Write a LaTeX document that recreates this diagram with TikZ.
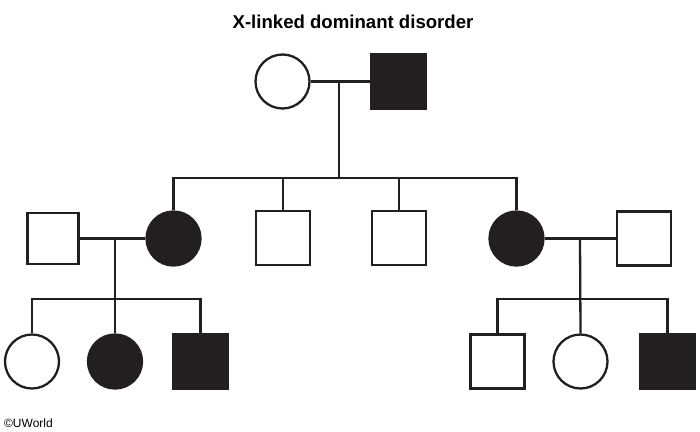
\documentclass[tikz,border=0pt]{standalone}
\usepackage{fontspec}
\setmainfont{Liberation Sans}
\definecolor{ink}{HTML}{231F20}
\tikzset{
  male/.style={draw=ink, rectangle, minimum size=54pt, inner sep=0pt},
  female/.style={draw=ink, circle, minimum size=54pt, inner sep=0pt},
  aff/.style={fill=ink},
  link/.style={draw=ink, line width=2.3pt}
}
\begin{document}
\begin{tikzpicture}[x=1pt,y=-1pt, line width=2.3pt]
\useasboundingbox (0,0) rectangle (700,431);
\node[font=\bfseries\fontsize{18.6}{22}\selectfont] (title) at (353,22) {X-linked dominant disorder};
\node[anchor=west, font=\fontsize{12}{14}\selectfont, inner sep=0pt] (copy) at (3,423) {©UWorld};
% generation I
\node[female] (g1f) at (282.5,81.5) {};
\node[male,aff] (g1m) at (398.5,81.5) {};
\coordinate (m1) at (339,81.5);
\coordinate (sib1) at (339,178);
\draw[link] (g1f.east) -- (g1m.west);
\draw[link] (m1) -- (sib1);
% generation II
\node[male, minimum size=51pt] (h1) at (53,238.5) {};
\node[female,aff] (d1) at (173.5,238.5) {};
\node[male] (s2) at (283,238) {};
\node[male] (s3) at (399,238) {};
\node[female,aff] (d2) at (516.5,238.5) {};
\node[male] (h2) at (644,238.5) {};
\draw[link] (d1.north) |- (sib1) -| (d2.north);
\draw[link] (s2.north) -- (s2.north |- sib1);
\draw[link] (s3.north) -- (s3.north |- sib1);
% left family
\draw[link] (h1.east) -- (d1.west);
\coordinate (m2) at (115,238.5);
\coordinate (sib2) at (115,299);
\node[female] (c1) at (32,361.5) {};
\node[female,aff] (c2) at (115,361.5) {};
\node[male,aff] (c3) at (200.5,361.5) {};
\draw[link] (m2) -- (c2.north);
\draw[link] (c1.north) |- (sib2) -| (c3.north);
% right family
\draw[link] (d2.east) -- (h2.west);
\coordinate (m3) at (580,238.5);
\coordinate (sib3) at (580,299);
\node[male] (c4) at (497.5,361.5) {};
\node[female] (c5) at (580.5,361.5) {};
\node[male,aff] (c6) at (667.5,361.5) {};
\draw[link] (m3) -- (c5.north);
\draw[link] (c4.north) |- (sib3) -| (c6.north);
\end{tikzpicture}
\end{document}
